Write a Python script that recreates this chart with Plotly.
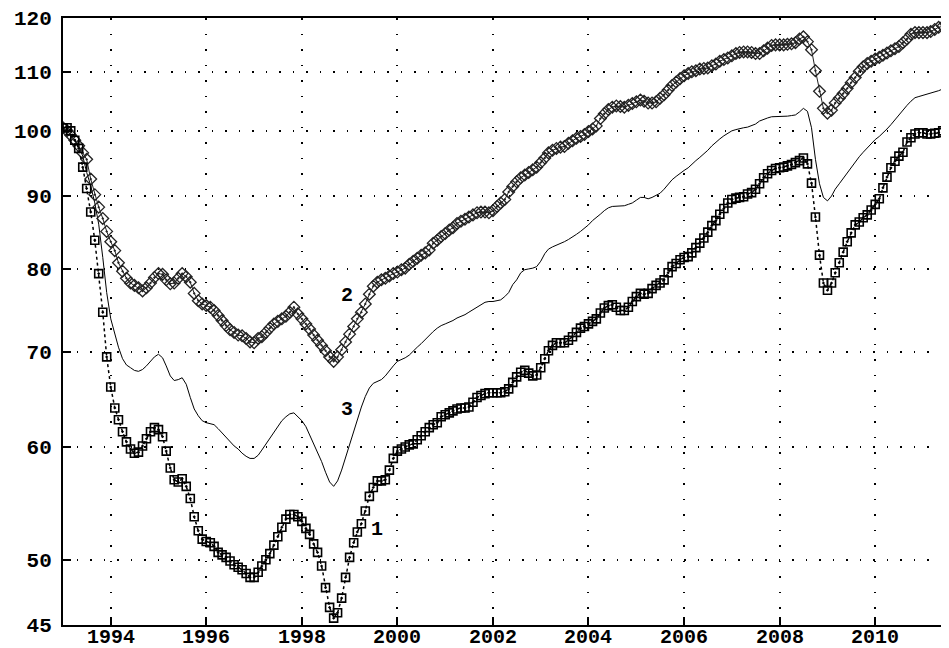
import numpy as np
import pandas as pd
import plotly.graph_objects as go

# Monthly observations, Jan 1993 .. Jul 2011
months = pd.date_range("1993-01-01", periods=223, freq="MS")

series1 = [
    100.5, 100.5, 100.0, 98.5, 97.2, 94.3, 91.1, 87.7, 83.8, 79.4, 74.6, 69.4,
    66.1, 63.9, 62.7, 61.5, 60.5, 59.8, 59.4, 59.5, 60.1, 60.8, 61.5, 61.9,
    61.7, 61.0, 59.6, 58.0, 56.9, 56.7, 57.0, 56.3, 55.2, 53.6, 52.4, 51.7,
    51.5, 51.4, 51.1, 50.6, 50.4, 50.2, 49.9, 49.6, 49.4, 49.2, 48.9, 48.6,
    48.6, 49.0, 49.5, 50.0, 50.5, 51.2, 51.9, 52.7, 53.4, 53.8, 53.8, 53.6,
    53.2, 52.6, 52.1, 51.3, 50.6, 49.5, 47.8, 46.3, 45.5, 45.9, 47.0, 48.6,
    50.2, 51.4, 52.3, 53.0, 54.1, 55.4, 56.2, 56.8, 56.8, 56.9, 57.8, 58.9,
    59.6, 59.8, 60.0, 60.2, 60.3, 60.7, 61.1, 61.5, 61.9, 62.2, 62.4, 63.0,
    63.2, 63.4, 63.6, 63.8, 63.9, 63.9, 64.0, 64.5, 65.0, 65.2, 65.4, 65.5,
    65.5, 65.5, 65.5, 65.6, 65.9, 66.6, 67.2, 67.7, 67.9, 67.6, 67.3, 67.4,
    68.2, 69.2, 70.1, 70.7, 71.0, 71.0, 71.0, 71.3, 71.7, 72.2, 72.7, 72.9,
    73.2, 73.5, 73.8, 74.5, 75.1, 75.4, 75.5, 75.2, 74.8, 74.8, 75.2, 75.9,
    76.5, 76.9, 76.8, 76.9, 77.5, 77.9, 78.2, 78.6, 79.5, 80.3, 80.7, 81.2,
    81.5, 81.6, 82.1, 82.8, 83.4, 84.1, 84.9, 85.8, 86.5, 87.4, 88.2, 89.0,
    89.5, 89.7, 89.8, 89.9, 90.3, 90.5, 91.0, 91.8, 92.7, 93.3, 93.8, 94.1,
    94.2, 94.3, 94.5, 94.7, 95.0, 95.3, 95.7, 94.8, 91.9, 87.0, 81.8, 78.2,
    77.3, 78.2, 79.5, 80.8, 82.2, 83.6, 84.8, 85.9, 86.3, 86.9, 87.3, 88.0,
    88.8, 89.6, 91.2, 92.8, 94.2, 95.2, 96.0, 96.6, 98.2, 98.9, 99.5, 99.7,
    99.7, 99.5, 99.5, 99.6, 99.7, 100.0, 100.3,
]

series2 = [
    100.5, 100.0, 99.3, 98.5, 97.6, 96.5, 95.5, 92.5, 90.2, 88.4, 86.8, 85.0,
    83.6, 82.4, 80.8, 79.7, 78.8, 78.2, 77.9, 77.6, 77.2, 77.6, 78.2, 78.9,
    79.4, 79.3, 78.6, 78.1, 78.2, 78.8, 79.4, 79.0, 78.3, 76.9, 76.0, 75.6,
    75.4, 75.2, 74.8, 74.2, 73.6, 73.0, 72.5, 72.2, 71.9, 71.8, 71.5, 71.1,
    71.0, 71.5, 71.7, 72.2, 72.7, 73.2, 73.5, 73.8, 74.1, 74.6, 75.2, 74.4,
    73.8, 73.2, 72.6, 71.9, 71.3, 70.7, 70.1, 69.4, 68.9, 69.4, 70.2, 71.1,
    72.0, 72.9, 73.8, 74.6, 75.6, 76.8, 77.8, 78.3, 78.6, 78.8, 79.1, 79.4,
    79.6, 79.9, 80.1, 80.6, 81.0, 81.4, 81.8, 82.1, 82.5, 83.4, 83.8, 84.3,
    84.7, 85.2, 85.5, 86.1, 86.4, 86.7, 87.0, 87.3, 87.6, 87.7, 87.7, 87.6,
    87.9, 88.5, 89.0, 89.5, 90.6, 91.4, 92.1, 92.7, 93.1, 93.5, 93.9, 94.3,
    95.0, 95.7, 96.5, 96.9, 97.2, 97.4, 97.5, 98.0, 98.4, 98.8, 99.1, 99.4,
    99.9, 100.3, 100.8, 102.0, 102.8, 103.5, 103.9, 104.1, 104.0, 103.9, 104.2, 104.5,
    104.8, 105.1, 104.9, 104.6, 104.6, 104.8, 105.4, 106.0, 106.8, 107.6, 108.2, 108.8,
    109.3, 109.7, 110.0, 110.2, 110.5, 110.6, 110.7, 111.1, 111.4, 111.9, 112.2, 112.5,
    112.9, 113.3, 113.5, 113.6, 113.6, 113.5, 113.3, 113.3, 113.8, 114.3, 114.8, 114.9,
    114.9, 114.9, 115.0, 115.1, 115.3, 116.0, 116.4, 115.5, 114.0, 110.2, 106.6, 103.7,
    102.9, 103.4, 104.6, 105.4, 106.2, 107.1, 108.1, 109.0, 110.1, 110.9, 111.5, 111.9,
    112.3, 112.6, 113.0, 113.4, 113.8, 114.2, 114.6, 115.3, 116.0, 116.9, 117.2, 117.2,
    117.2, 117.2, 117.4, 117.8, 118.2, 118.4, 118.7,
]

series3 = [
    100.3, 100.0, 99.3, 98.5, 97.5, 96.0, 93.5, 91.5, 89.0, 86.0, 81.5, 77.0,
    73.8, 71.9, 70.5, 69.2, 68.5, 68.2, 67.9, 67.8, 68.0, 68.4, 68.9, 69.4,
    69.7, 69.3, 68.4, 67.3, 66.8, 66.9, 67.1, 66.4, 65.0, 63.8, 63.1, 62.6,
    62.4, 62.3, 62.2, 61.8, 61.4, 60.9, 60.5, 60.1, 59.8, 59.4, 59.1, 58.9,
    58.9, 59.2, 59.7, 60.3, 60.9, 61.4, 62.0, 62.6, 63.0, 63.3, 63.4, 63.0,
    62.6, 62.0, 61.2, 60.3, 59.6, 58.6, 57.6, 56.7, 56.3, 56.8, 57.8, 59.0,
    60.3, 61.5, 62.8, 64.0, 65.1, 66.0, 66.5, 66.7, 66.9, 67.3, 67.9, 68.4,
    68.9, 69.1, 69.3, 69.6, 70.1, 70.5, 70.9, 71.4, 71.9, 72.3, 72.7, 73.0,
    73.2, 73.4, 73.6, 73.9, 74.1, 74.3, 74.6, 74.9, 75.3, 75.6, 75.8, 75.9,
    75.9, 76.0, 76.1, 76.5, 77.0, 78.0, 78.6, 79.5, 79.9, 80.0, 80.1, 80.3,
    81.0, 82.0, 82.6, 82.9, 83.1, 83.3, 83.6, 83.9, 84.2, 84.6, 85.0, 85.4,
    85.9, 86.5, 87.0, 87.4, 87.9, 88.3, 88.5, 88.5, 88.5, 88.6, 88.8, 89.0,
    89.4, 89.8, 89.8, 89.6, 89.8, 90.1, 90.4, 91.0, 91.7, 92.4, 92.9, 93.4,
    93.8, 94.2, 94.8, 95.3, 95.8, 96.3, 96.9, 97.6, 98.2, 98.7, 99.2, 99.6,
    100.0, 100.2, 100.4, 100.5, 100.6, 100.8, 101.1, 101.6, 101.9, 102.1, 102.3, 102.3,
    102.4, 102.4, 102.4, 102.5, 102.6, 103.1, 103.7, 103.2, 100.5, 95.5, 91.8, 89.8,
    89.3, 90.0, 91.0, 91.8, 92.6, 93.4, 94.3, 95.2, 95.9, 96.6, 97.3, 98.0,
    98.6, 99.1, 99.6, 100.3, 101.0, 101.8, 102.7, 103.5, 104.2, 104.9, 105.5, 105.7,
    105.9, 106.0, 106.2, 106.4, 106.7, 107.0, 107.3,
]

y_ticks = [45, 50, 60, 70, 80, 90, 100, 110, 120]
y_ticktext = ["45", "50", "60", "70", "80", "90", "100", "110", "120"]

x_ticks = ["1994-01-01", "1996-01-01", "1998-01-01", "2000-01-01", "2002-01-01",
           "2004-01-01", "2006-01-01", "2008-01-01", "2010-01-01"]
x_ticktext = ["1994", "1996", "1998", "2000", "2002", "2004", "2006", "2008", "2010"]

series_labels = ["1", "2", "3"]
label_x = ["1999-07-27", "1998-12-13", "1998-12-13"]
label_y = [52.5, 76.7, 63.7]

FONT = "Liberation Mono"
TICKFONT = dict(family=FONT, size=21, color="black", weight="bold")
XLABFONT = dict(family=FONT, size=20, color="black", weight="bold")

fig = go.Figure()

fig.add_trace(go.Scatter(
    x=months, y=series3, mode="lines",
    line=dict(color="black", width=1), showlegend=False,
))
fig.add_trace(go.Scatter(
    x=months, y=series2, mode="lines+markers",
    line=dict(color="#222", width=1),
    marker=dict(symbol="diamond-open-dot", size=9, color="#222",
                line=dict(width=1.3, color="#222")),
    showlegend=False,
))
fig.add_trace(go.Scatter(
    x=months, y=series1, mode="lines+markers",
    line=dict(color="black", width=1.5, dash="dot"),
    marker=dict(symbol="square-open-dot", size=8, color="black",
                line=dict(width=1.6, color="black")),
    showlegend=False,
))

for t, lx, ly in zip(series_labels, label_x, label_y):
    fig.add_annotation(x=lx, y=np.log10(ly), text=t, showarrow=False,
                       font=dict(family=FONT, size=20, color="black", weight="bold"))

# x-axis year labels, placed just below the axis line (kept inside the page)
for xv, txt in zip(x_ticks, x_ticktext):
    fig.add_annotation(x=xv, xref="x", y=0, yref="paper", text=txt,
                       showarrow=False, yanchor="top", yshift=-1,
                       borderpad=0, borderwidth=0, font=XLABFONT)

# The page body adds an 8px margin, so the figure is sized to end at the window edge.
fig.update_layout(
    width=941, height=640,
    margin=dict(l=55, r=0, t=10, b=23, autoexpand=False),
    paper_bgcolor="white", plot_bgcolor="white",
    font=dict(family=FONT, size=20, color="black", weight="bold"),
)
fig.update_xaxes(
    type="date", range=["1993-01-01", "2011-07-19"],
    tickvals=x_ticks, showticklabels=False,
    showgrid=True, gridcolor="black", gridwidth=1.5, griddash="1.5px,14px",
    showline=True, linecolor="black", linewidth=2, mirror=True,
    ticks="inside", ticklen=8, tickwidth=1.5, tickcolor="black",
    zeroline=False, automargin=False,
)
fig.update_yaxes(
    type="log", range=[np.log10(45), np.log10(120)],
    tickvals=y_ticks, ticktext=y_ticktext,
    showgrid=True, gridcolor="black", gridwidth=1.5, griddash="1.5px,12px",
    showline=True, linecolor="black", linewidth=2, mirror=False,
    ticks="inside", ticklen=8, tickwidth=1.5, tickcolor="black",
    ticklabelstandoff=5,
    tickfont=TICKFONT,
    zeroline=False, automargin=False,
)

fig.write_html("out.html")
